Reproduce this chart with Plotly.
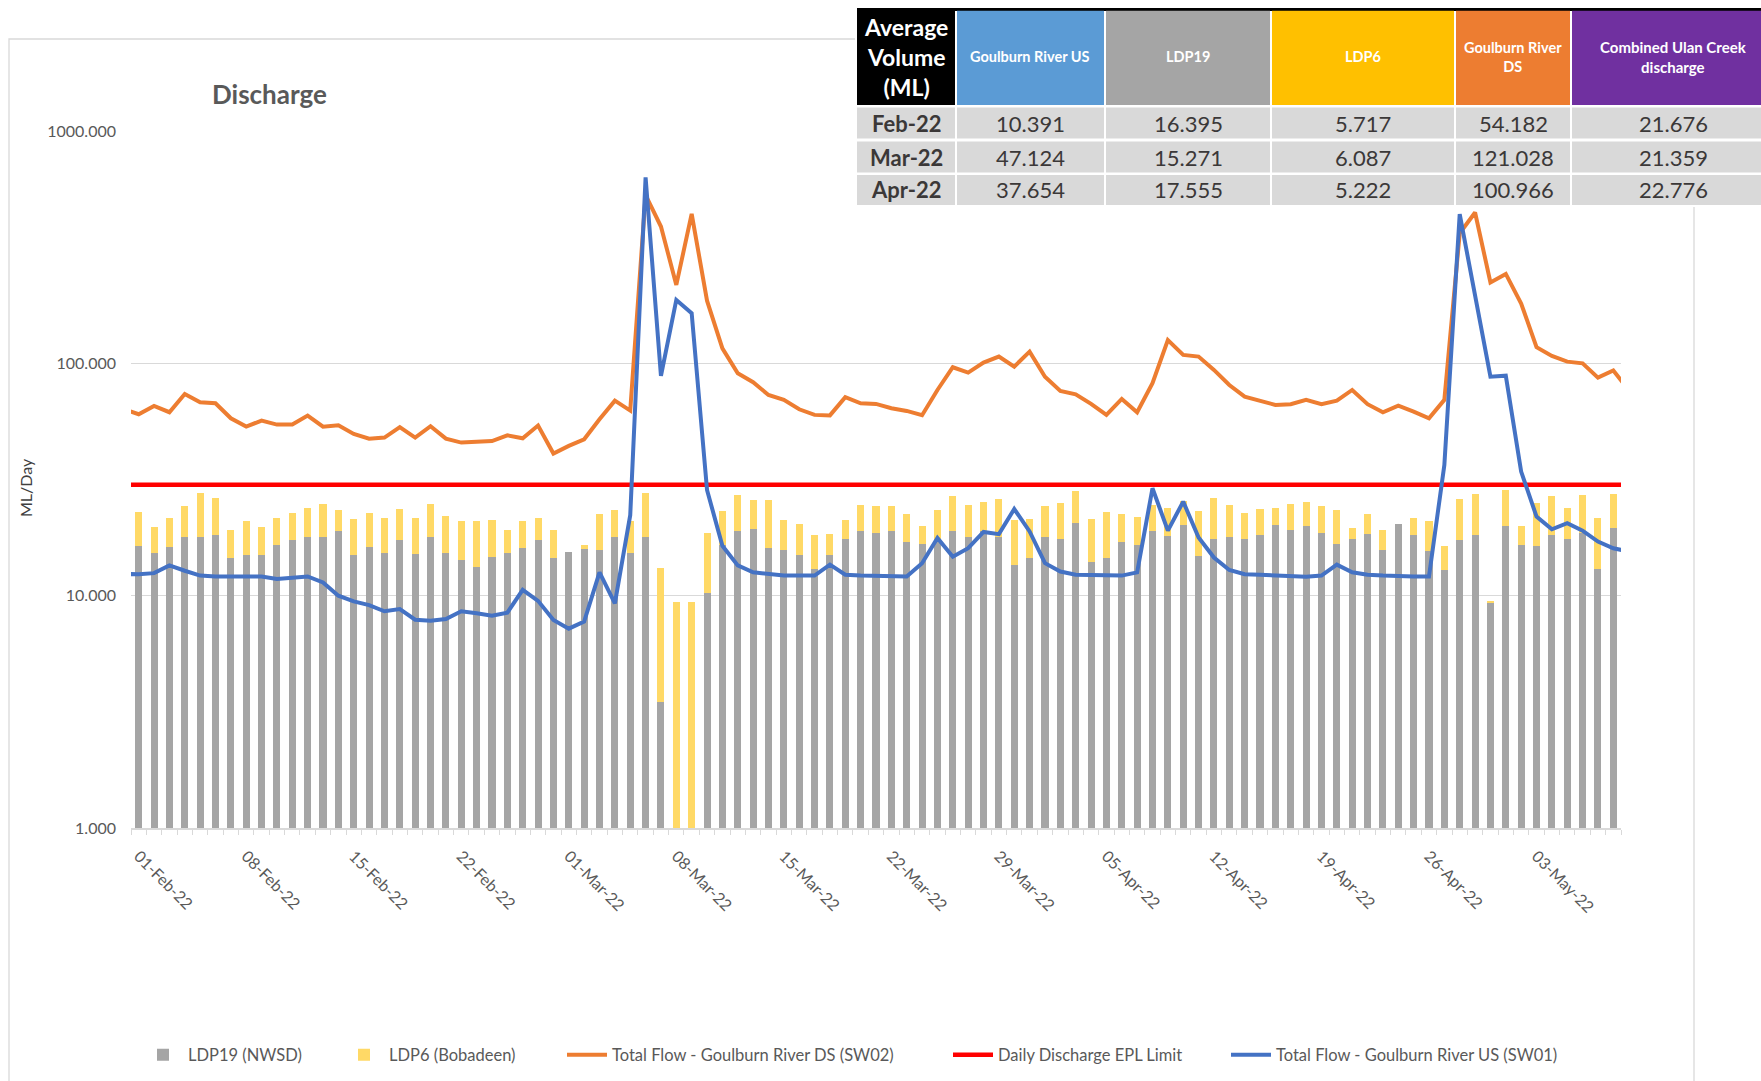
import pandas as pd
import plotly.graph_objects as go

# ---------------- data ----------------
dates = pd.date_range("2022-02-01", "2022-05-08", freq="D")        # 97 days of bars
line_dates = pd.date_range("2022-01-31", "2022-05-09", freq="D")   # flow series (ends clipped by axis)

ldp19 = [16.4, 15.3, 16.25, 17.8, 17.95, 18.3, 14.55, 14.9, 14.9, 16.6, 17.3, 17.8, 17.95, 18.9,
         15.0, 16.25, 15.3, 17.3, 15.15, 17.95, 15.3, 14.3, 13.35, 14.6, 15.3, 16.1, 17.3, 14.5,
         15.4, 15.9, 15.8, 17.95, 15.2, 17.85, 3.47, 0, 0, 10.26, 16.5, 19.05, 19.45, 16.0,
         15.65, 14.95, 13.0, 15.0, 17.6, 18.9, 18.7, 18.9, 17.1, 16.7, 17.0, 18.9, 17.95, 19.05,
         17.95, 13.5, 14.55,
         17.8, 17.6, 20.6, 14.0, 14.5, 17.1, 16.6, 18.9, 18.1, 20.2, 14.75, 17.5, 17.95, 17.5,
         18.3, 20.2, 19.25, 20.0, 18.7, 16.7, 17.5, 18.5, 15.8, 20.3, 18.3, 15.5, 12.9, 17.3,
         18.3, 9.3,
         20.0, 16.6, 16.4, 18.3, 17.5, 18.7, 13.0, 19.6]

ldp6 = [6.6, 4.4, 5.45, 6.5, 9.65, 7.9, 4.65, 6.1, 4.8, 5.1, 5.3, 6.0, 6.75, 4.5,
        6.3, 6.35, 6.4, 6.2, 6.35, 6.75, 6.65, 6.7, 7.65, 6.5, 3.9, 4.9, 4.4, 4.7,
        0.0, 0.6, 6.7, 5.35, 5.8, 9.95, 9.73, 9.36, 9.4, 8.29, 6.7, 8.05, 6.35, 9.7,
        5.55, 5.35, 5.3, 3.4, 3.6, 5.6, 5.6, 5.4, 5.4, 3.3, 6.3, 7.9, 6.55, 6.35,
        8.05, 7.7, 6.75,
        6.5, 7.37, 7.6, 7.3, 8.4, 5.4, 5.3, 5.6, 5.7, 5.4, 8.35, 8.7, 6.55, 5.1,
        5.2, 3.7, 5.45, 5.4, 5.6, 6.6, 2.0, 4.0, 3.4, 0.0, 3.4, 5.5, 3.5, 8.7,
        9.0, 0.2,
        8.5, 3.35, 8.57, 8.5, 6.3, 8.3, 8.5, 7.7]

sw02_ds = [63.5,
           60.4, 65.6, 61.6, 73.8, 68.0, 67.3, 58.0, 53.4, 56.7, 54.5, 54.5, 59.6, 53.4, 54.1,
           49.7, 47.4, 47.9, 53.1, 47.9, 53.6, 47.4, 45.6, 45.9, 46.3, 49.0, 47.6, 54.0, 40.9,
           44.1, 47.1, 57.4, 69.1, 62.6, 530, 388, 217.5, 440, 186, 116, 90.6, 82.9, 73.1,
           69.6, 63.4, 60.0, 59.7, 71.5, 67.3, 66.9, 64.1, 62.4, 59.8, 76.8, 96.2, 91.2, 100.7,
           106.9, 96.8, 112.3,
           87.6, 76.1, 73.6, 66.9, 60.0, 70.3, 61.6, 82.1, 126, 108.7, 106.9, 93.7, 80.7, 71.9,
           69.1, 66.2, 66.7, 69.6, 66.7, 69.1, 76.8, 66.7, 61.6, 65.8, 62.0, 58.0, 69.6, 363,
           446, 223,
           242.5, 181, 117.3, 107.6, 101.7, 100.0, 86.8, 93.1,
           76.8]

sw01_us = [12.4,
           12.36, 12.5, 13.5, 12.8, 12.2, 12.1, 12.1, 12.1, 12.1, 11.8, 12.0, 12.1, 11.4, 10.0,
           9.45, 9.1, 8.57, 8.75, 7.88, 7.8, 7.94, 8.57, 8.4, 8.2, 8.45, 10.6, 9.5, 7.86,
           7.21, 7.73, 12.6, 9.27, 22.2, 632, 88.3, 187.5, 164.4, 28.5, 16.4, 13.5, 12.6, 12.36,
           12.2, 12.2, 12.2, 13.6, 12.3, 12.2, 12.2, 12.1, 12.1, 13.8, 17.7, 14.7, 16.0, 18.8,
           18.4, 23.6, 18.9,
           13.8, 12.7, 12.3, 12.3, 12.2, 12.2, 12.6, 29.0, 19.05, 25.4, 17.8, 14.6, 12.9, 12.36,
           12.3, 12.2, 12.2, 12.07, 12.2, 13.6, 12.6, 12.3, 12.2, 12.1, 12.1, 12.1, 36.5, 438.5,
           200, 87.6,
           88.5, 34.2, 21.9, 19.3, 20.5, 19.05, 17.1, 16.0,
           15.5]

epl_limit = 30
limit_dates = ["2022-01-31", "2022-05-09"]

y_tickvals = [1, 10, 100, 1000]
y_ticktext = ["1.000", "10.000", "100.000", "1000.000"]

# summary table
tbl_header = ["Average<br>Volume<br>(ML)", "Goulburn River US", "LDP19", "LDP6",
              "Goulburn River<br>DS", "Combined Ulan Creek<br>discharge"]
tbl_months = ["Feb-22", "Mar-22", "Apr-22"]
tbl_us = ["10.391", "47.124", "37.654"]
tbl_ldp19 = ["16.395", "15.271", "17.555"]
tbl_ldp6 = ["5.717", "6.087", "5.222"]
tbl_ds = ["54.182", "121.028", "100.966"]
tbl_ulan = ["21.676", "21.359", "22.776"]

# ---------------- layout helpers ----------------
W, H = 1761, 1081
L, R, T, B = 131, 1621, 131, 828
FONT = "Lato"
GREY_TXT = "#595959"


def px(x):
    return (x - L) / (R - L)


def py(y):
    return (B - y) / (B - T)


day_ms = 86400000
fig = go.Figure()
fig.add_trace(go.Bar(x=dates, y=ldp19, name="LDP19 (NWSD)", marker=dict(color="#a5a5a5", line=dict(width=0)),
                     width=0.46 * day_ms, legend="legend"))
fig.add_trace(go.Bar(x=dates, y=ldp6, name="LDP6 (Bobadeen)", marker=dict(color="#ffd966", line=dict(width=0)),
                     width=0.46 * day_ms, legend="legend2"))
fig.add_trace(go.Scatter(x=line_dates, y=sw02_ds, mode="lines", name="Total Flow - Goulburn River DS (SW02)",
                         line=dict(color="#ed7d31", width=4), legend="legend3"))
fig.add_trace(go.Scatter(x=limit_dates, y=[epl_limit, epl_limit], mode="lines", name="Daily Discharge EPL Limit",
                         line=dict(color="#ff0000", width=4.5), legend="legend4"))
fig.add_trace(go.Scatter(x=line_dates, y=sw01_us, mode="lines", name="Total Flow - Goulburn River US (SW01)",
                         line=dict(color="#4472c4", width=4), legend="legend5"))

tickdates = dates[::7]
fig.update_xaxes(
    type="date", range=["2022-01-31 12:00", "2022-05-08 12:00"],
    tickvals=list(tickdates), ticktext=[d.strftime("%d-%b-%y") for d in tickdates],
    tickangle=45, tickfont=dict(family=FONT, size=16, color=GREY_TXT),
    ticks="", showgrid=False, showline=True, linecolor="#d9d9d9", linewidth=1.5,
    minor=dict(ticks="outside", ticklen=5, tickcolor="#d9d9d9", tickwidth=1.2,
               tick0="2022-01-31 12:00", dtick=day_ms, showgrid=False),
    ticklabelstandoff=11,
)
fig.update_yaxes(
    type="log", range=[0, 3], tickvals=y_tickvals, ticktext=y_ticktext,
    tickfont=dict(family=FONT, size=16, color=GREY_TXT), ticks="",
    showgrid=True, gridcolor="#d9d9d9", gridwidth=1.3, showline=False, zeroline=False,
    ticklabelstandoff=14,
)

shapes = []
annotations = []
# outer chart border
shapes.append(dict(type="rect", xref="paper", yref="paper", x0=px(9), x1=px(1694), y0=py(1095), y1=py(39),
                   line=dict(color="#d9d9d9", width=1.3), fillcolor="rgba(0,0,0,0)", layer="below"))

# title and axis title
annotations.append(dict(text="<b>Discharge</b>", xref="paper", yref="paper", x=px(269), y=py(94),
                        showarrow=False, xanchor="center", yanchor="middle",
                        font=dict(family=FONT, size=26, color=GREY_TXT)))
annotations.append(dict(text="ML/Day", xref="paper", yref="paper", x=px(25), y=py(488), textangle=-90,
                        showarrow=False, xanchor="center", yanchor="middle",
                        font=dict(family=FONT, size=16, color="#404040")))

# summary table drawn on top of the chart
cols = [(857, 955), (957, 1104), (1106, 1270), (1272, 1454), (1456, 1570), (1572, 1775)]
col_text_x = [906, 1030, 1188, 1363, 1513, 1673]
rows = [(10.7, 105), (107.5, 138.5), (141.5, 172.5), (175, 205)]
head_fill = ["#000000", "#5b9bd5", "#a5a5a5", "#ffc000", "#ed7d31", "#7030a0"]
head_size = [23, 14.5, 14.5, 14.5, 14.5, 15]

shapes.append(dict(type="rect", xref="paper", yref="paper", x0=px(855), x1=px(1775), y0=py(207), y1=py(8),
                   line=dict(width=0), fillcolor="white", layer="above"))
shapes.append(dict(type="rect", xref="paper", yref="paper", x0=px(857), x1=px(1775), y0=py(11), y1=py(8),
                   line=dict(width=0), fillcolor="black", layer="above"))
for ci, (x0, x1) in enumerate(cols):
    for ri, (y0, y1) in enumerate(rows):
        fill = head_fill[ci] if ri == 0 else "#d9d9d9"
        shapes.append(dict(type="rect", xref="paper", yref="paper", x0=px(x0), x1=px(x1), y0=py(y1), y1=py(y0),
                           line=dict(width=0), fillcolor=fill, layer="above"))

for ci, txt in enumerate(tbl_header):
    annotations.append(dict(text=f"<b>{txt}</b>", xref="paper", yref="paper", x=px(col_text_x[ci]),
                            y=py(57), showarrow=False, xanchor="center", yanchor="middle",
                            font=dict(family=FONT, size=head_size[ci], color="white")))

table_cols = [tbl_months, tbl_us, tbl_ldp19, tbl_ldp6, tbl_ds, tbl_ulan]
for ci, colvals in enumerate(table_cols):
    for ri, val in enumerate(colvals):
        y0, y1 = rows[ri + 1]
        txt = f"<b>{val}</b>" if ci == 0 else val
        annotations.append(dict(text=txt, xref="paper", yref="paper", x=px(col_text_x[ci]),
                                y=py((y0 + y1) / 2), showarrow=False, xanchor="center", yanchor="middle",
                                font=dict(family=FONT, size=22, color="#3b3838")))


def legend_at(xpix):
    return dict(orientation="h", x=px(xpix), xanchor="left", y=py(1055), yanchor="middle",
                font=dict(family=FONT, size=16.5, color=GREY_TXT), itemwidth=40,
                bgcolor="rgba(0,0,0,0)")


fig.update_layout(
    width=W, height=H, barmode="stack", bargap=0,
    margin=dict(l=L, r=W - R, t=T, b=H - B, autoexpand=False),
    paper_bgcolor="white", plot_bgcolor="white",
    font=dict(family=FONT, size=16, color=GREY_TXT),
    showlegend=True,
    legend=legend_at(138), legend2=legend_at(339), legend3=legend_at(562),
    legend4=legend_at(948), legend5=legend_at(1226),
    shapes=shapes, annotations=annotations,
)

fig.write_html("out.html", config={"displayModeBar": False},
               post_script="document.body.style.margin='0';document.body.style.overflow='hidden';")
